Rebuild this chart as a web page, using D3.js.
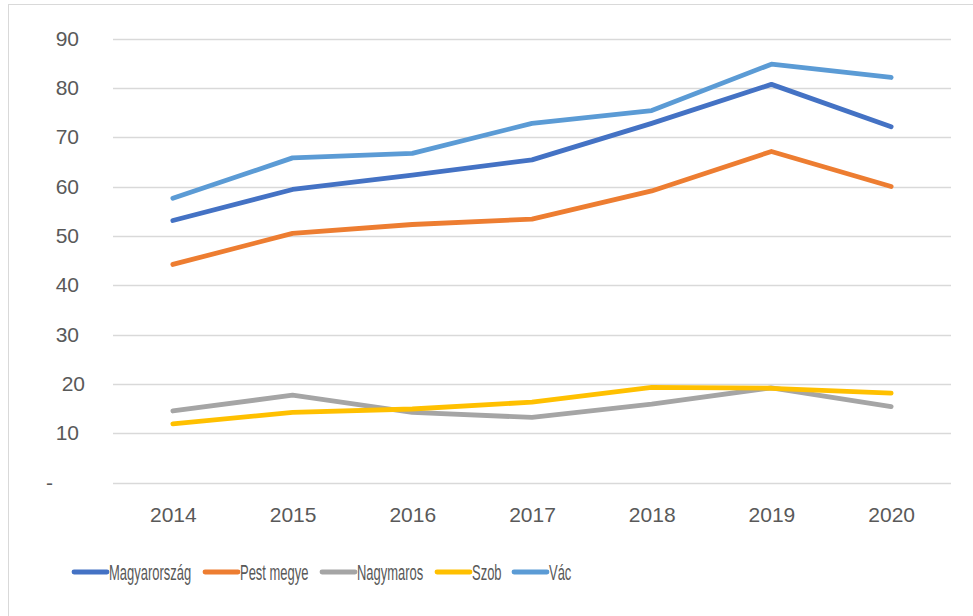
<!DOCTYPE html>
<html>
<head>
<meta charset="utf-8">
<script src="https://cdn.jsdelivr.net/npm/d3@7"></script>
<style>
  html, body { margin: 0; padding: 0; background: #fff; }
  svg { display: block; }
</style>
</head>
<body>
<svg id="chart" width="973" height="616"></svg>
<script>
const years = ["2014", "2015", "2016", "2017", "2018", "2019", "2020"];
const seriesNames = ["Magyarország", "Pest megye", "Nagymaros", "Szob", "Vác"];
const magyarorszag = [53.1, 59.4, 62.3, 65.4, 72.8, 80.7, 72.1];
const pestMegye   = [44.2, 50.5, 52.3, 53.4, 59.1, 67.1, 60.0];
const nagymaros   = [14.5, 17.7, 14.2, 13.2, 15.9, 19.2, 15.4];
const szob        = [11.9, 14.2, 14.9, 16.3, 19.3, 19.1, 18.1];
const vac         = [57.6, 65.8, 66.7, 72.8, 75.4, 84.8, 82.1];
const yTicks = [0, 10, 20, 30, 40, 50, 60, 70, 80, 90];
const colors = ["#4472C4", "#ED7D31", "#A5A5A5", "#FFC000", "#5B9BD5"];

const seriesValues = [magyarorszag, pestMegye, nagymaros, szob, vac];
const series = seriesNames.map((n, i) => ({ name: n, values: seriesValues[i], color: colors[i] }));

const svg = d3.select("#chart");

// outer chart border
svg.append("rect")
  .attr("x", 8.5).attr("y", 4.5)
  .attr("width", 1000).attr("height", 700)
  .attr("fill", "#fff").attr("stroke", "#d9d9d9").attr("stroke-width", 1);

const plot = { left: 113, right: 951, top: 38.5, bottom: 482.5 };

const x = d3.scalePoint().domain(years)
  .range([plot.left, plot.right]).padding(0.5);
const y = d3.scaleLinear().domain([0, 90]).range([plot.bottom, plot.top]);

// gridlines
svg.append("g")
  .selectAll("line").data(yTicks).join("line")
  .attr("x1", plot.left).attr("x2", plot.right)
  .attr("y1", d => Math.round(y(d)) + 0.5).attr("y2", d => Math.round(y(d)) + 0.5)
  .attr("stroke", "#d9d9d9").attr("stroke-width", 1.5);

// y axis labels
const yAxis = d3.axisLeft(y).tickValues(yTicks)
  .tickFormat(d => d === 0 ? "-" : String(d)).tickSize(0).tickPadding(0);
const yg = svg.append("g").attr("transform", `translate(79,0)`).call(yAxis);
yg.select(".domain").remove();
yg.selectAll("text")
  .attr("fill", "#595959")
  .style("font-family", "'Liberation Sans', Arial, sans-serif")
  .style("font-size", "21px")
  .attr("dx", d => d === 0 ? -26 : (d === 20 ? 6 : 0));

// x axis labels
const xAxis = d3.axisBottom(x).tickSize(0).tickPadding(0);
const xg = svg.append("g").attr("transform", `translate(0,${plot.bottom})`).call(xAxis);
xg.select(".domain").remove();
xg.selectAll("text")
  .attr("fill", "#595959")
  .attr("y", 25)
  .attr("dy", "0.71em")
  .style("font-family", "'Liberation Sans', Arial, sans-serif")
  .style("font-size", "21px");

// lines
const line = d3.line().x((d, i) => x(years[i])).y(d => y(d));
svg.append("g")
  .selectAll("path").data(series).join("path")
  .attr("d", d => line(d.values))
  .attr("fill", "none")
  .attr("stroke", d => d.color)
  .attr("stroke-width", 4.8)
  .attr("stroke-linecap", "round")
  .attr("stroke-linejoin", "round");

// legend
const legendX = [74, 205, 322, 437, 514];
const lg = svg.append("g");
const items = lg.selectAll("g").data(series).join("g")
  .attr("transform", (d, i) => `translate(${legendX[i]},572)`);
items.append("line")
  .attr("x1", 0).attr("x2", 33).attr("y1", 0).attr("y2", 0)
  .attr("stroke", d => d.color).attr("stroke-width", 4.8)
  .attr("stroke-linecap", "round");
items.append("text")
  .attr("transform", "translate(35,0) scale(0.59,1)")
  .attr("dy", "0.36em")
  .attr("fill", "#595959")
  .style("font-family", "'Liberation Sans', Arial, sans-serif")
  .style("font-size", "22px")
  .text(d => d.name);
</script>
</body>
</html>
